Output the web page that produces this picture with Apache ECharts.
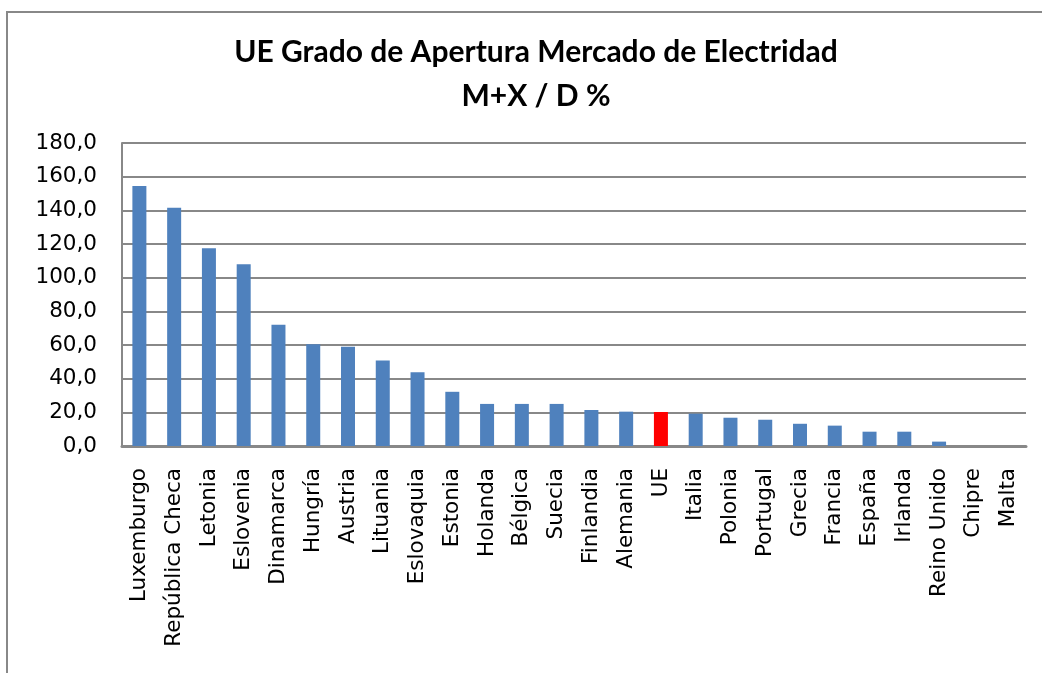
<!DOCTYPE html>
<html>
<head>
    <meta charset="utf-8">
    <script src="https://cdn.jsdelivr.net/npm/echarts@6/dist/echarts.min.js"></script>
    <style>
        html, body { margin: 0; padding: 0; background: #fff; }
        #main { width: 1042px; height: 673px; }
    </style>
</head>
<body>
    <div id="main"></div>
    <script>
        // datos
        var paises = ['Luxemburgo', 'República Checa', 'Letonia', 'Eslovenia', 'Dinamarca', 'Hungría',
            'Austria', 'Lituania', 'Eslovaquia', 'Estonia', 'Holanda', 'Bélgica', 'Suecia', 'Finlandia',
            'Alemania', 'UE', 'Italia', 'Polonia', 'Portugal', 'Grecia', 'Francia', 'España', 'Irlanda',
            'Reino Unido', 'Chipre', 'Malta'];
        var apertura = [154.5, 141.5, 117.5, 108.0, 72.0, 60.5, 59.0, 50.8, 43.8, 32.2, 25.0, 25.0, 25.0,
            21.4, 20.4, 20.2, 19.2, 16.8, 15.6, 13.2, 12.1, 8.5, 8.5, 2.6, 0, 0];
        var destacado = 'UE';

        var chart = echarts.init(document.getElementById('main'));

        var option = {
            animation: false,
            title: {
                text: 'UE Grado de Apertura Mercado de Electridad\nM+X / D %',
                left: 531,
                textAlign: 'center',
                top: 25,
                textStyle: {
                    fontFamily: 'Lato',
                    fontWeight: 'bold',
                    fontSize: 30,
                    lineHeight: 44,
                    color: '#000'
                }
            },
            graphic: [{
                type: 'rect',
                shape: { x: 7, y: 12, width: 1100, height: 700 },
                style: { fill: 'none', stroke: '#888', lineWidth: 2 },
                silent: true
            }],
            grid: { left: 122, right: 16, top: 143, bottom: 227 },
            xAxis: {
                type: 'category',
                data: paises,
                axisLine: { lineStyle: { color: '#888', width: 3 } },
                axisTick: { show: false },
                axisLabel: {
                    rotate: 90,
                    interval: 0,
                    margin: 22,
                    fontFamily: 'DejaVu Sans',
                    fontSize: 21.5,
                    color: '#000'
                }
            },
            yAxis: {
                type: 'value',
                min: 0,
                max: 180,
                interval: 20,
                axisLine: { show: true, lineStyle: { color: '#888', width: 2 } },
                axisTick: { show: false },
                splitLine: { lineStyle: { color: '#888', width: 2 } },
                axisLabel: {
                    margin: 25,
                    fontFamily: 'DejaVu Sans',
                    fontSize: 21.5,
                    color: '#000',
                    formatter: function (v) { return v.toFixed(1).replace('.', ','); }
                }
            },
            series: [{
                type: 'bar',
                barWidth: 14,
                data: apertura.map(function (v, i) {
                    return {
                        value: v,
                        itemStyle: { color: paises[i] === destacado ? '#ff0000' : '#4f81bd' }
                    };
                })
            }]
        };

        chart.setOption(option);
    </script>
</body>
</html>
